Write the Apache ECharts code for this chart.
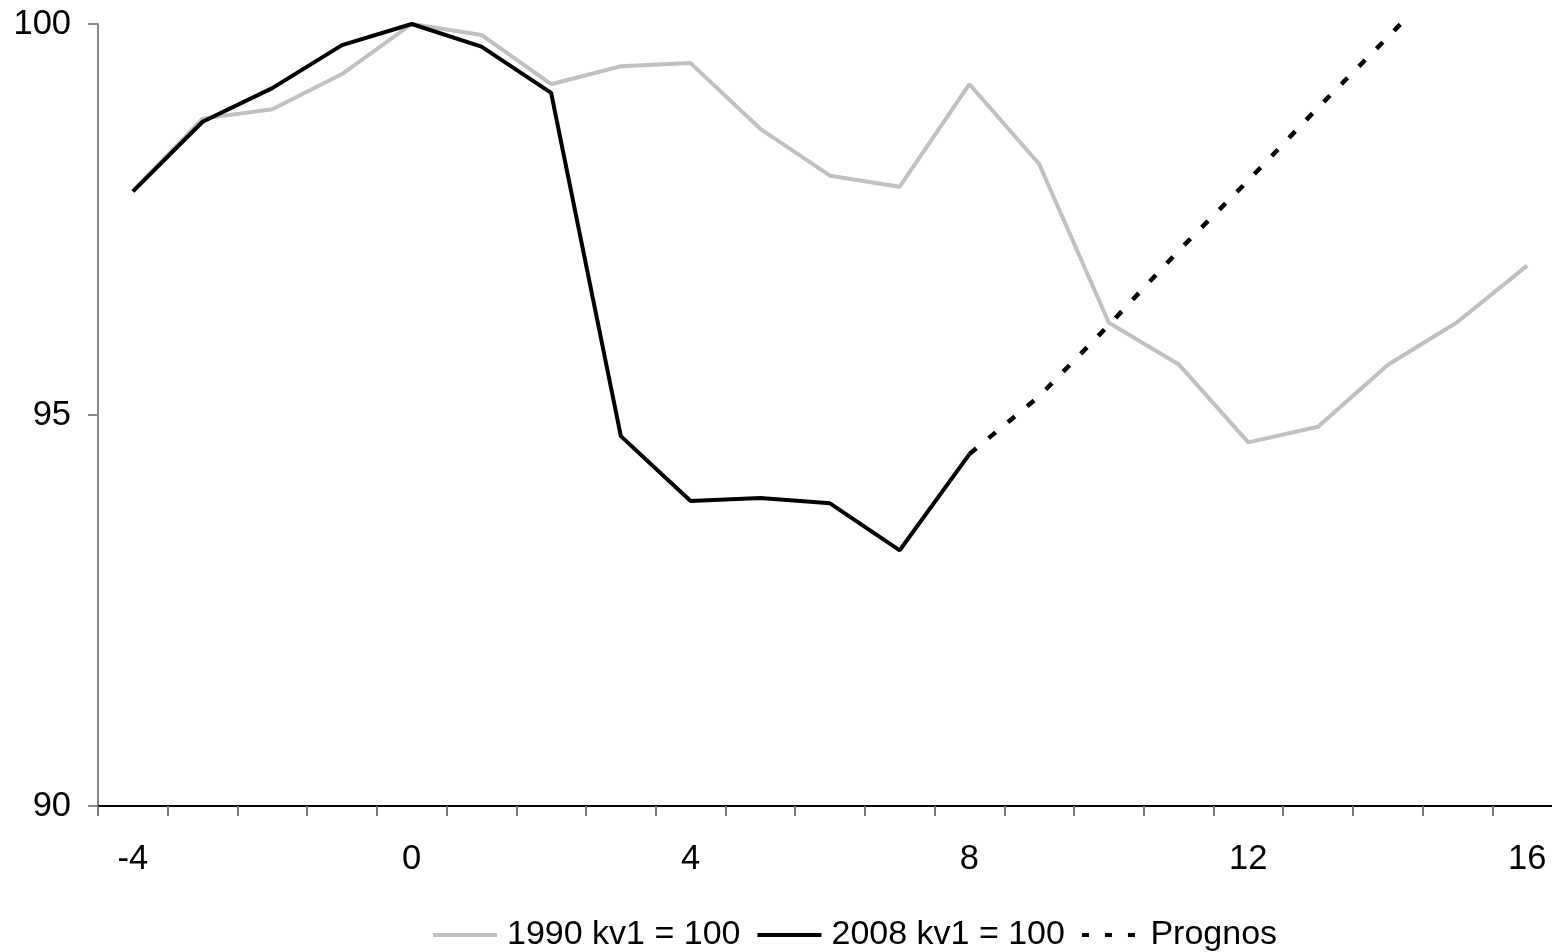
<!DOCTYPE html>
<html>
<head>
<meta charset="utf-8">
<script src="https://cdn.jsdelivr.net/npm/echarts@6/dist/echarts.min.js"></script>
<style>
html,body{margin:0;padding:0;background:#fff;}
#chart{width:1552px;height:952px;}
</style>
</head>
<body>
<div id="chart"></div>
<script>
const categories = ['-4','-3','-2','-1','0','1','2','3','4','5','6','7','8','9','10','11','12','13','14','15','16'];
const series1990 = [97.86, 98.79, 98.91, 99.36, 100, 99.86, 99.23, 99.46, 99.50, 98.66, 98.06, 97.92, 99.23, 98.21, 96.18, 95.65, 94.65, 94.85, 95.64, 96.19, 96.91];
const series2008 = [97.86, 98.75, 99.18, 99.73, 100, 99.71, 99.12, 94.73, 93.90, 93.94, 93.87, 93.27, 94.50, null, null, null, null, null, null, null, null];
const seriesPrognos = [null, null, null, null, null, null, null, null, null, null, null, null, 94.50, 95.24, 96.15, 97.10, 98.00, 98.93, 99.83, 100.75, null];
const yTicks = [90, 95, 100];

const FONT = 'Liberation Sans, Arial, sans-serif';
const LINE_ICON = 'path://M0,0H64V4H0Z';
const DOT_ICON = 'path://M4,0H11V4H4Z M27,0H34V4H27Z M50,0H57V4H50Z';
const chart = echarts.init(document.getElementById('chart'));
chart.setOption({
  animation: false,
  backgroundColor: '#fff',
  textStyle: { fontFamily: FONT, color: '#000' },
  grid: { left: 98, width: 1464, top: 24, bottom: 146, outerBoundsMode: 'none', containLabel: false },
  legend: {
    left: 428, top: 913,
    itemWidth: 64, itemHeight: 4, itemGap: 17,
    textStyle: { fontFamily: FONT, fontSize: 34, color: '#000', padding: [0, 0, 0, 5] },
    data: [
      { name: '1990 kv1 = 100', icon: LINE_ICON },
      { name: '2008 kv1 = 100', icon: LINE_ICON },
      { name: 'Prognos', icon: DOT_ICON }
    ]
  },
  xAxis: {
    type: 'category',
    data: categories,
    boundaryGap: true,
    axisLine: { lineStyle: { color: '#000', width: 2 } },
    axisTick: { show: true, interval: 0, length: 10, lineStyle: { color: '#777', width: 2 } },
    axisLabel: { interval: 3, margin: 36, fontSize: 34.5, color: '#000', fontFamily: FONT },
    splitLine: { show: false }
  },
  yAxis: {
    type: 'value',
    min: yTicks[0], max: yTicks[yTicks.length - 1], interval: 5,
    axisLine: { show: true, lineStyle: { color: '#888', width: 2 } },
    axisTick: { show: true, length: 10, lineStyle: { color: '#888', width: 2 } },
    axisLabel: { margin: 27, fontSize: 34.5, color: '#000', fontFamily: FONT },
    splitLine: { show: false }
  },
  series: [
    {
      name: '1990 kv1 = 100', type: 'line', data: series1990,
      symbol: 'none', clip: true,
      lineStyle: { color: '#c0c0c0', width: 4 },
      itemStyle: { color: '#c0c0c0' }
    },
    {
      name: '2008 kv1 = 100', type: 'line', data: series2008,
      symbol: 'none', clip: true, connectNulls: false,
      lineStyle: { color: '#000', width: 4 },
      itemStyle: { color: '#000' }
    },
    {
      name: 'Prognos', type: 'line', data: seriesPrognos,
      symbol: 'none', clip: true,
      lineStyle: { color: '#000', width: 4.5, type: [9, 16] },
      itemStyle: { color: '#000' }
    }
  ]
});
</script>
</body>
</html>
